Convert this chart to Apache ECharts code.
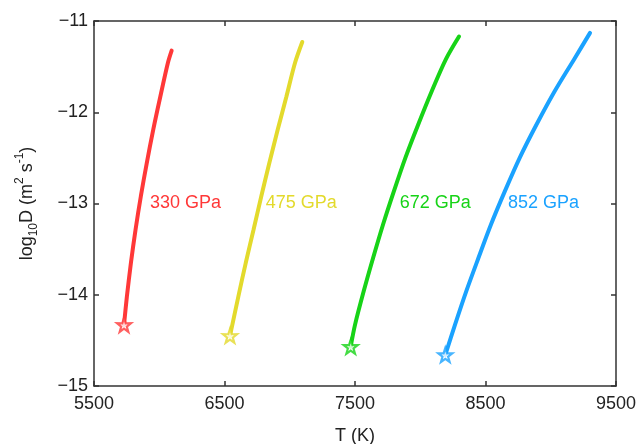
<!DOCTYPE html>
<html>
<head>
<meta charset="utf-8">
<script src="https://cdn.jsdelivr.net/npm/echarts@6/dist/echarts.min.js"></script>
<style>
  html, body { margin: 0; padding: 0; background: #fff; }
  #chart { width: 638px; height: 444px; }
</style>
</head>
<body>
<div id="chart"></div>
<script>
// temperature (K) and log10 D for each pressure, bottom point first (the star)
const t330 = [5730, 5752, 5783, 5818, 5859, 5904, 5954, 6008, 6066, 6095];
const d330 = [-14.33, -14.02, -13.65, -13.29, -12.92, -12.56, -12.19, -11.83, -11.46, -11.325];

const t475 = [6542, 6606, 6663, 6722, 6782, 6843, 6908, 6974, 7040, 7096];
const d475 = [-14.45, -14.02, -13.65, -13.29, -12.92, -12.56, -12.19, -11.83, -11.46, -11.23];

const t672 = [7467, 7500, 7567, 7638, 7715, 7797, 7886, 7983, 8088, 8196, 8297];
const d672 = [-14.57, -14.33, -13.96, -13.60, -13.23, -12.87, -12.50, -12.14, -11.77, -11.42, -11.17];

const t852 = [8192, 8266, 8353, 8445, 8542, 8647, 8762, 8889, 9030, 9183, 9301];
const d852 = [-14.66, -14.33, -13.96, -13.60, -13.23, -12.87, -12.50, -12.14, -11.77, -11.41, -11.13];

const pressureLabels = ["330 GPa", "475 GPa", "672 GPa", "852 GPa"];
const labelT = [5929, 6816, 7843, 8672];
const labelD = -13;

const xTicks = [5500, 6500, 7500, 8500, 9500];
const yTicks = [-15, -14, -13, -12, -11];

const colors = ["#ff3838", "#e3da2c", "#17d317", "#1aa2ff"];
const starPath = "path://M50,0 L61.8,35.1 L97.6,34.5 L69.1,56.4 L79.4,90.5 L50,70 L20.6,90.5 L30.9,56.4 L2.4,34.5 L38.2,35.1 Z";

const curves = [[t330, d330], [t475, d475], [t672, d672], [t852, d852]];

const chart = echarts.init(document.getElementById("chart"));

const axisColor = "#333";
const fontFamily = "'Liberation Sans', Arial, sans-serif";
const minus = (v) => String(v).replace("-", "\u2212");

const series = [];
curves.forEach(([ts, ds], i) => {
  series.push({
    type: "line",
    data: ts.map((t, k) => [t, ds[k]]),
    smooth: 0.3,
    symbol: "none",
    lineStyle: { color: colors[i], width: 4, cap: "round" },
    z: 2,
    markPoint: {
      symbol: "circle",
      symbolSize: 0,
      silent: true,
      label: {
        show: true,
        position: "right",
        distance: 0,
        color: colors[i],
        fontSize: 18,
        fontFamily: fontFamily,
        formatter: pressureLabels[i],
      },
      data: [{ coord: [labelT[i], labelD] }],
    },
  });
  series.push({
    type: "scatter",
    data: [[ts[0], ds[0]]],
    symbol: starPath,
    symbolSize: 14,
    itemStyle: { color: "#fff", borderColor: colors[i], borderWidth: 2.2 },
    z: 3,
  });
});

const baseX = {
  type: "value",
  min: xTicks[0],
  max: xTicks[xTicks.length - 1],
  interval: 1000,
  splitLine: { show: false },
  axisLine: { lineStyle: { color: axisColor, width: 1.5 } },
  axisTick: { inside: true, length: 5, lineStyle: { color: axisColor, width: 1.5 } },
};
const baseY = {
  type: "value",
  min: yTicks[0],
  max: yTicks[yTicks.length - 1],
  interval: 1,
  splitLine: { show: false },
  axisLine: { lineStyle: { color: axisColor, width: 1.5 } },
  axisTick: { inside: true, length: 5, lineStyle: { color: axisColor, width: 1.5 } },
};

chart.setOption({
  animation: false,
  grid: { left: 94, right: 22, top: 21, bottom: 58, outerBoundsMode: "none", containLabel: false },
  xAxis: [
    {
      ...baseX,
      position: "bottom",
      name: "T (K)",
      nameLocation: "middle",
      nameGap: 41,
      nameTextStyle: { color: "#222", fontSize: 18, fontFamily: fontFamily },
      axisLabel: {
        color: "#222",
        fontSize: 18,
        fontFamily: fontFamily,
        margin: 9,
        formatter: (v) => String(v),
      },
    },
    { ...baseX, position: "top", axisLabel: { show: false } },
  ],
  yAxis: [
    {
      ...baseY,
      position: "left",
      name: "{a|log}{sub|10}{a|D (m}{sup|2}{a| s}{sup|-1}{a|)}",
      nameLocation: "middle",
      nameGap: 54,
      nameRotate: 90,
      nameTextStyle: {
        color: "#222",
        fontFamily: fontFamily,
        rich: {
          a: { fontSize: 18, fontFamily: fontFamily, color: "#222", lineHeight: 26 },
          sub: { fontSize: 12, fontFamily: fontFamily, color: "#222", verticalAlign: "bottom", lineHeight: 26 },
          sup: { fontSize: 12, fontFamily: fontFamily, color: "#222", verticalAlign: "top", lineHeight: 20 },
        },
      },
      axisLabel: {
        color: "#222",
        fontSize: 18,
        fontFamily: fontFamily,
        margin: 6,
        formatter: minus,
      },
    },
    { ...baseY, position: "right", axisLabel: { show: false } },
  ],
  series: series,
});
</script>
</body>
</html>
